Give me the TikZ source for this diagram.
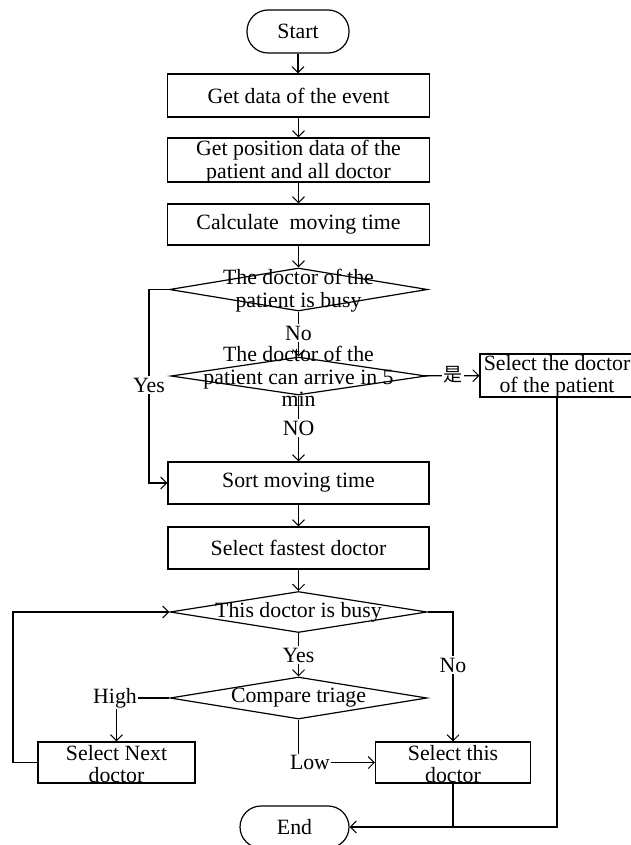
\documentclass[tikz,border=0pt]{standalone}
\usepackage{fontspec}
\setmainfont{Liberation Serif}
\newfontfamily\cjkfont{Noto Sans CJK SC}
\usetikzlibrary{arrows.meta,shapes.geometric}

\begin{document}
\begin{tikzpicture}[x=1pt,y=-1pt,
  font=\fontsize{21.8}{22.5}\selectfont,
  line width=1.2pt,
  arr/.style={-{Straight Barb[length=6pt,width=12pt,line width=1pt]}},
  procbox/.style={draw, rectangle, inner sep=0pt, align=center},
  twoline/.style={procbox, text depth=0pt, yshift=-1.5pt},
  termbox/.style={draw, rectangle, rounded corners=21pt, inner sep=0pt},
  decbox/.style={draw, diamond, inner sep=0pt},
  txt/.style={align=center, inner sep=0pt},
  lbl/.style={fill=white, inner sep=1.5pt}]

\clip (0,0) rectangle (631,845);
\fill[white] (0,0) rectangle (631,845);

% main column
\node[termbox, minimum width=102pt, minimum height=43pt] (start) at (298,31.5) {Start};
\node[procbox, minimum width=262pt, minimum height=43pt] (b1) at (298.5,95.5) {Get data of the event};
\node[procbox, minimum width=262pt, minimum height=44pt] (b2) at (298.5,160) {};
\node[txt] (b2t) at (298.5,161.5) {Get position data of the\\patient and all doctor};
\node[procbox, minimum width=262pt, minimum height=41pt] (b3) at (298.5,224.5) {Calculate\ \ moving time};

\node[decbox, minimum width=258pt, minimum height=43pt] (d1) at (298.5,289.5) {};
\node[txt] (d1t) at (298.5,290.5) {The doctor of the\\patient is busy};

\node[decbox, minimum width=255pt, minimum height=38pt] (d2) at (298.5,376) {};
\node[txt] (d2t) at (298.5,376.5) {The doctor of the\\patient can arrive in 5\\min};

\node[procbox, minimum width=154pt, minimum height=43pt] (sel) at (557,375.5) {};
\node[txt] (selt) at (557,376.5) {Select the doctor\\of the patient};

\node[procbox, minimum width=261pt, minimum height=42pt] (sort) at (298.5,483) {Sort moving time};
\node[procbox, minimum width=261pt, minimum height=42pt] (fast) at (298.5,548) {Select fastest doctor};

\node[decbox, minimum width=257pt, minimum height=41pt] (d3) at (298.5,612) {};
\node[txt] (d3t) at (d3) {This doctor is busy};

\node[decbox, minimum width=257pt, minimum height=42pt] (d4) at (298.5,698) {};
\node[txt] (d4t) at (d4) {Compare triage};

\node[procbox, minimum width=157pt, minimum height=41pt] (next) at (116.5,762.5) {};
\node[txt] (nextt) at (116.5,764) {Select Next\\doctor};
\node[procbox, minimum width=155pt, minimum height=41pt] (this) at (453,762.5) {};
\node[txt] (thist) at (453,764) {Select this\\doctor};

\node[termbox, minimum width=109pt, minimum height=42pt] (end) at (294.5,827) {End};

% helper points for the side routes
\coordinate (yesx) at (149,289.5);
\coordinate (loopx) at (13,762.5);

% straight flow
\draw[arr] (start) -- (start |- b1.north);
\draw[arr] (b1) -- (b2);
\draw[arr] (b2) -- (b3);
\draw[arr] (b3) -- (d1);
\draw[arr] (d1) -- (d2);
\draw[arr] (d2) -- (sort);
\draw[arr] (d2) -- (sel);
\draw[arr] (sort) -- (fast);
\draw[arr] (fast) -- (d3);
\draw[arr] (d3) -- (d4);

% Yes branch of the first test
\draw[arr] (d1.west) -- (yesx) -- (yesx |- sort.west) -- (sort.west);

% priority comparison
\draw[arr] (d4.west) -| (next.north);
\draw[arr] (d4.south) |- (this.west);
\draw[arr] (d3.east) -| (this.north);
\draw[arr] (next.west) -- (loopx) -- (loopx |- d3.west) -- (d3.west);

% towards the end
\draw[arr] (this.south) |- (end.east);
\draw (sel.south) |- (this.south |- end.east);

% branch labels
\node[lbl] (lno1) at (298.5,333) {No};
\node[lbl] (lno2) at (298.5,428) {NO};
\node[lbl, font=\cjkfont\fontsize{19}{20}\selectfont] (lshi) at (453,375) {是};
\node[lbl] (lyes1) at (149,385) {Yes};
\node[lbl] (lyes2) at (298.5,655) {Yes};
\node[lbl] (lhigh) at (115,698) {High};
\node[lbl] (llow) at (310,762.5) {Low};
\node[lbl] (lno3) at (453,665) {No};
\end{tikzpicture}
\end{document}
